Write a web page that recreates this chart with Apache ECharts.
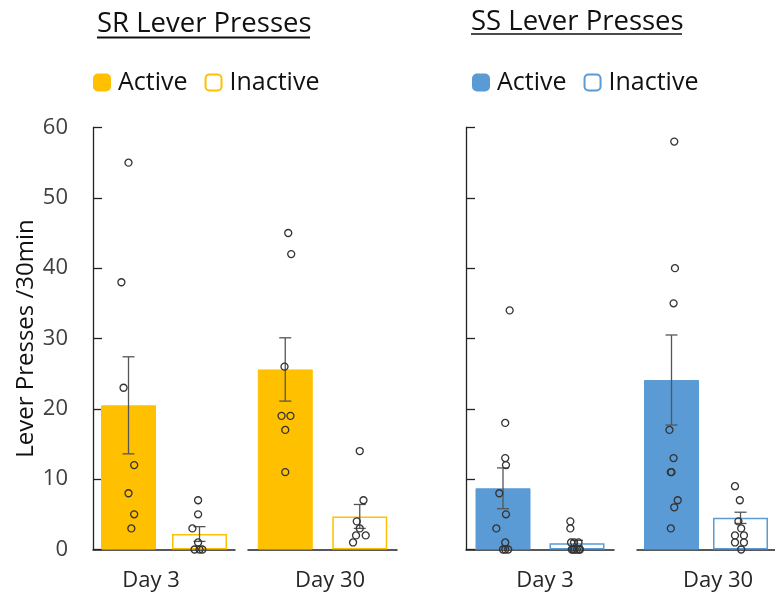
<!DOCTYPE html>
<html><head><meta charset="utf-8">
<script src="https://cdn.jsdelivr.net/npm/echarts@6/dist/echarts.min.js"></script>
<style>html,body{margin:0;padding:0;background:#fff}#c{width:775px;height:597px}</style>
</head><body><div id="c"></div>
<script>
// ---------- data ----------
const panelTitles = ['SR Lever Presses', 'SS Lever Presses'];
const dayLabels = ['Day 3', 'Day 30'];
const conditions = ['Active', 'Inactive'];
const yMin = 0, yMax = 60, yStep = 10;

// bar means and SEM, index = day (Day 3, Day 30)
const srActiveMean = [20.5, 25.6];
const srActiveSem = [6.9, 4.5];
const srInactiveMean = [2.2, 4.7];
const srInactiveSem = [1.05, 1.7];
const ssActiveMean = [8.7, 24.1];
const ssActiveSem = [2.9, 6.4];
const ssInactiveMean = [0.9, 4.5];
const ssInactiveSem = [0.4, 0.8];

// individual subjects (values) and horizontal jitter (in category units)
const srD3Active = [55, 38, 23, 12, 8, 5, 3];
const srD3ActiveJit = [0, -0.1, -0.07, 0.08, 0, 0.08, 0.04];
const srD3Inactive = [7, 5, 3, 1, 0, 0, 0];
const srD3InactiveJit = [-0.02, -0.02, -0.1, -0.02, -0.07, 0, 0.04];
const srD30Active = [45, 42, 26, 19, 19, 17, 11];
const srD30ActiveJit = [0.04, 0.08, -0.01, -0.05, 0.07, 0, 0];
const srD30Inactive = [14, 7, 4, 3, 2, 2, 1];
const srD30InactiveJit = [0, 0.05, -0.04, 0, -0.05, 0.08, -0.09];
const ssD3Active = [34, 18, 13, 12, 8, 5, 3, 1, 0, 0, 0];
const ssD3ActiveJit = [0.09, 0.03, 0.03, 0.04, -0.05, 0.04, -0.09, 0.03, 0, 0.07, 0.03];
const ssD3Inactive = [4, 3, 1, 1, 1, 0, 0, 0, 0, 0, 0];
const ssD3InactiveJit = [-0.09, -0.09, -0.08, -0.04, 0.02, -0.07, -0.03, 0.03, -0.05, 0, 0.04];
const ssD30Active = [58, 40, 35, 17, 13, 11, 11, 7, 6, 3];
const ssD30ActiveJit = [0.04, 0.05, 0.03, -0.03, 0.03, -0.01, 0, 0.09, 0.04, -0.01];
const ssD30Inactive = [9, 7, 4, 3, 2, 2, 1, 1, 0];
const ssD30InactiveJit = [-0.08, -0.01, -0.03, 0.01, -0.08, 0.05, -0.08, 0.05, 0.01];

// ---------- build ----------
const FONT = 'Open Sans';
const colors = { SR: '#FFC000', SS: '#5B9BD5' };
const groups = [
  { key: 'SR', day: 0, act: srD3Active, actJ: srD3ActiveJit, ina: srD3Inactive, inaJ: srD3InactiveJit },
  { key: 'SR', day: 1, act: srD30Active, actJ: srD30ActiveJit, ina: srD30Inactive, inaJ: srD30InactiveJit },
  { key: 'SS', day: 0, act: ssD3Active, actJ: ssD3ActiveJit, ina: ssD3Inactive, inaJ: ssD3InactiveJit },
  { key: 'SS', day: 1, act: ssD30Active, actJ: ssD30ActiveJit, ina: ssD30Inactive, inaJ: ssD30InactiveJit }
];
const means = { SR: [srActiveMean, srInactiveMean], SS: [ssActiveMean, ssInactiveMean] };
const sems = { SR: [srActiveSem, srInactiveSem], SS: [ssActiveSem, ssInactiveSem] };

const gridBoxes = [
  { left: 93, width: 142 }, { left: 248, width: 149 },
  { left: 466, width: 148 }, { left: 637, width: 148 }
];
const namePads = [[0, 26, 0, 0], [0, 0, 0, 15], [0, 0, 0, 10], [0, 0, 0, 24]];

const grid = [], xAxis = [], yAxis = [], series = [];
groups.forEach((g, i) => {
  grid.push({ left: gridBoxes[i].left, width: gridBoxes[i].width, top: 127.5, height: 422 });
  xAxis.push({
    gridIndex: i, type: 'value', min: -0.5, max: 1.5,
    axisLine: { onZero: false, lineStyle: { color: '#222', width: 1.5 } },
    axisTick: { show: false }, axisLabel: { show: false }, splitLine: { show: false },
    name: dayLabels[g.day], nameLocation: 'middle', nameGap: 20,
    nameTextStyle: { fontSize: 22, color: '#262626', fontFamily: FONT, padding: namePads[i] }
  });
  yAxis.push({
    gridIndex: i, type: 'value', min: yMin, max: yMax, interval: yStep,
    show: i === 0 || i === 2,
    axisLine: { show: true, onZero: false, lineStyle: { color: '#222', width: 1.3 } },
    axisTick: { show: true, inside: true, length: 9, lineStyle: { color: '#222', width: 1.3 } },
    axisLabel: { show: i === 0, fontSize: 22, color: '#404040', margin: 25, fontFamily: FONT },
    splitLine: { show: false },
    name: i === 0 ? 'Lever Presses /30min' : '', nameLocation: 'middle', nameGap: 55,
    nameTextStyle: { fontSize: 24, color: '#111', fontFamily: FONT }
  });
  const c = colors[g.key];
  conditions.forEach((cond, k) => {
    const m = means[g.key][k][g.day];
    series.push({
      type: 'bar', name: g.key + ' ' + cond, xAxisIndex: i, yAxisIndex: i,
      barWidth: 55, barGap: '-100%', z: 2,
      itemStyle: k === 0 ? { color: c, borderColor: c, borderWidth: 1 }
                         : { color: '#ffffff', borderColor: c, borderWidth: 1.5 },
      data: [[k, m]]
    });
  });
  series.push({
    type: 'custom', xAxisIndex: i, yAxisIndex: i, z: 3, silent: true,
    data: conditions.map((cond, k) => [k, means[g.key][k][g.day], sems[g.key][k][g.day]]),
    encode: { x: 0, y: 1 },
    renderItem: (params, api) => {
      const x = api.value(0), m = api.value(1), s = api.value(2);
      const top = api.coord([x, m + s]), bot = api.coord([x, Math.max(0, m - s)]);
      const st = { stroke: '#555', lineWidth: 1.3 };
      return { type: 'group', children: [
        { type: 'line', shape: { x1: top[0], y1: top[1], x2: bot[0], y2: bot[1] }, style: st },
        { type: 'line', shape: { x1: top[0] - 6, y1: top[1], x2: top[0] + 6, y2: top[1] }, style: st },
        { type: 'line', shape: { x1: bot[0] - 6, y1: bot[1], x2: bot[0] + 6, y2: bot[1] }, style: st }
      ] };
    }
  });
  [[g.act, g.actJ, 0], [g.ina, g.inaJ, 1]].forEach(([vals, jit, k]) => {
    series.push({
      type: 'scatter', xAxisIndex: i, yAxisIndex: i, z: 4, silent: true,
      symbol: 'circle', symbolSize: 7,
      itemStyle: { color: 'rgba(0,0,0,0)', borderColor: '#333', borderWidth: 1.3, opacity: 1 },
      data: vals.map((v, j) => [k + jit[j], v])
    });
  });
});

const legendCommon = {
  top: 70, padding: 0, itemWidth: 16, itemHeight: 16, itemGap: 17,
  formatter: n => n.replace(/^S[RS] /, ''),
  textStyle: { fontSize: 25, color: '#111', fontFamily: FONT, padding: [0, 0, 0, 3] }
};

const option = {
  backgroundColor: '#fff',
  animation: false,
  title: [
    { text: panelTitles[0], left: 92, top: 5, textStyle: { fontSize: 27.5, fontWeight: 'normal', color: '#111', fontFamily: FONT } },
    { text: panelTitles[1], left: 466, top: 3, textStyle: { fontSize: 27.5, fontWeight: 'normal', color: '#111', fontFamily: FONT } }
  ],
  legend: [
    Object.assign({ left: 93, data: ['SR Active', 'SR Inactive'] }, legendCommon),
    Object.assign({ left: 472, data: ['SS Active', 'SS Inactive'] }, legendCommon)
  ],
  graphic: [
    { type: 'line', shape: { x1: 97, y1: 37.5, x2: 310, y2: 37.5 }, style: { stroke: '#111', lineWidth: 2 } },
    { type: 'line', shape: { x1: 471, y1: 34, x2: 682, y2: 34 }, style: { stroke: '#111', lineWidth: 1.5 } }
  ],
  grid, xAxis, yAxis, series
};
const chart = echarts.init(document.getElementById('c'), null, { renderer: 'canvas' });
chart.setOption(option);
</script></body></html>
